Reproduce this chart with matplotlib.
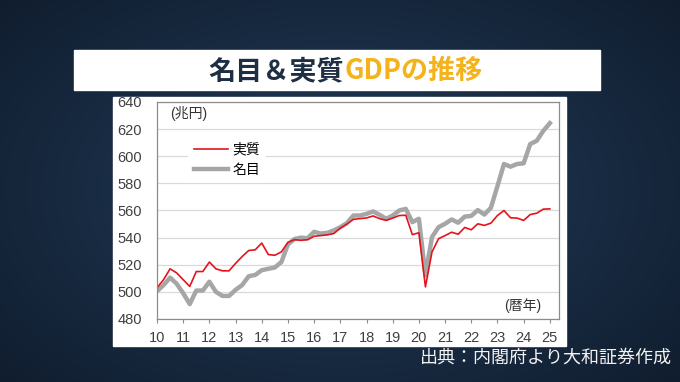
import numpy as np
import matplotlib
matplotlib.use('Agg')
import matplotlib.pyplot as plt
from matplotlib.patches import Rectangle
from matplotlib.lines import Line2D

plt.rcParams['font.family'] = ['Liberation Sans', 'Noto Sans CJK JP']

# 四半期データ (兆円), 2010Q1 - 2025Q1
start_year = 10
real_gdp = [
    503, 509, 517, 514,
    509, 504, 515, 515,
    522, 517, 515.5, 515.5,
    521, 526, 530.5, 531,
    536, 527.5, 527, 529.5,
    536.5, 538.5, 538, 538.5,
    541, 541.5, 542, 543,
    547, 550, 553.5, 554,
    554.5, 556, 554, 552.7,
    554.4, 556.3, 556.5, 542.2,
    543.6, 503.7, 529.4, 539.2,
    541.5, 544, 542.5, 547.5,
    545.8, 550.2, 549, 550.7,
    556.3, 560, 554.6, 554.4,
    552.7, 557, 558, 561,
    561.2,
]
nominal_gdp = [
    500.5, 505, 510.5, 506,
    499, 491, 501, 501,
    507.5, 500, 497, 497,
    501.5, 505, 511.5, 512.5,
    516, 517, 518, 522,
    535, 539, 540, 539.5,
    544.3, 543, 543.5, 545.3,
    547.7, 550.7, 556.3, 556.3,
    557.5, 559.3, 556.8, 553.9,
    556.3, 560, 561.2, 551.4,
    553.9, 512.3, 540.4, 547.7,
    550.2, 553.4, 551, 555.5,
    556, 560.3, 557, 562,
    578, 594.3, 592.3, 594.3,
    594.8, 609, 611.4, 618.7,
    624.4,
]
x_ticks = list(range(10, 26))
y_ticks = list(range(480, 641, 20))

quarters = start_year + np.arange(len(real_gdp)) / 4

W, H = 680, 382
fig = plt.figure(figsize=(W / 100, H / 100), dpi=100)

# 背景 (紺のグラデーション)
bg = fig.add_axes([0, 0, 1, 1], zorder=-2)
yy, xx = np.mgrid[0:1:H * 1j, 0:1:W * 1j]
r = np.sqrt(((xx - 0.5) * 1.1) ** 2 + (yy - 0.5) ** 2)
t = np.clip(r / 0.75, 0, 1)[..., None]
center = np.array([34, 60, 90]) / 255
edge = np.array([16, 29, 46]) / 255
bg.imshow(center * (1 - t) + edge * t, extent=[0, 1, 0, 1], aspect='auto')
bg.add_patch(Rectangle((74 / W, 1 - 90 / H), 526 / W, 40 / H, color='white'))
bg.add_patch(Rectangle((113 / W, 1 - 346 / H), 453 / W, 249 / H, color='white'))
bg.set_xlim(0, 1)
bg.set_ylim(0, 1)
bg.axis('off')

# タイトル
fig.text(344 / W, 1 - 79 / H, '名目＆実質', ha='right', va='baseline', fontsize=19.5,
         fontweight='bold', color='#1e2f44', family=['Noto Sans CJK JP'])
fig.text(344 / W, 1 - 79 / H, 'GDPの推移', ha='left', va='baseline', fontsize=19.5,
         fontweight='bold', color='#f5b21a', family=['Noto Sans CJK JP'])

# グラフ
ax = fig.add_axes([157 / W, 1 - 319 / H, 402 / W, 217 / H])
ax.plot(quarters, nominal_gdp, color='#a6a6a6', lw=3.2, solid_joinstyle='round')
ax.plot(quarters, real_gdp, color='#e3141c', lw=1.2)
ax.set_xlim(10, 25.35)
ax.set_ylim(480, 640)
ax.set_xticks(x_ticks)
ax.set_yticks(y_ticks)
ax.grid(axis='y', color='#d9d9d9', lw=0.9)
ax.set_axisbelow(True)
for s in ax.spines.values():
    s.set_color('#8c8c8c')
    s.set_linewidth(0.9)
ax.tick_params(axis='y', length=0, pad=11, labelsize=10.5, labelcolor='#404040')
ax.tick_params(axis='x', length=3, direction='out', pad=6, labelsize=10.5,
               labelcolor='#404040', color='#8c8c8c')

handles = [Line2D([], [], color='#e3141c', lw=1.2),
           Line2D([], [], color='#a6a6a6', lw=3.2)]
ax.legend(handles, ['実質', '名目'], loc='upper left', bbox_to_anchor=(0.06, 0.87),
          frameon=True, facecolor='white', edgecolor='none', framealpha=1, fancybox=False,
          fontsize=10, handlelength=2.5, handletextpad=0.3, labelspacing=0.45, borderpad=0.4)

ax.text(0.032, 0.949, '(兆円)', transform=ax.transAxes, fontsize=10, va='center', color='#333333')
ax.text(0.955, 0.06, '(暦年)', transform=ax.transAxes, fontsize=10, ha='right', va='center',
        color='#333333')

# 出典
fig.text(672 / W, 1 - 358 / H, '出典：内閣府より大和証券作成', ha='right', va='center',
         fontsize=13, color='#f2f2f2', family=['Noto Sans CJK JP'])

fig.savefig('out.png', dpi=100)
